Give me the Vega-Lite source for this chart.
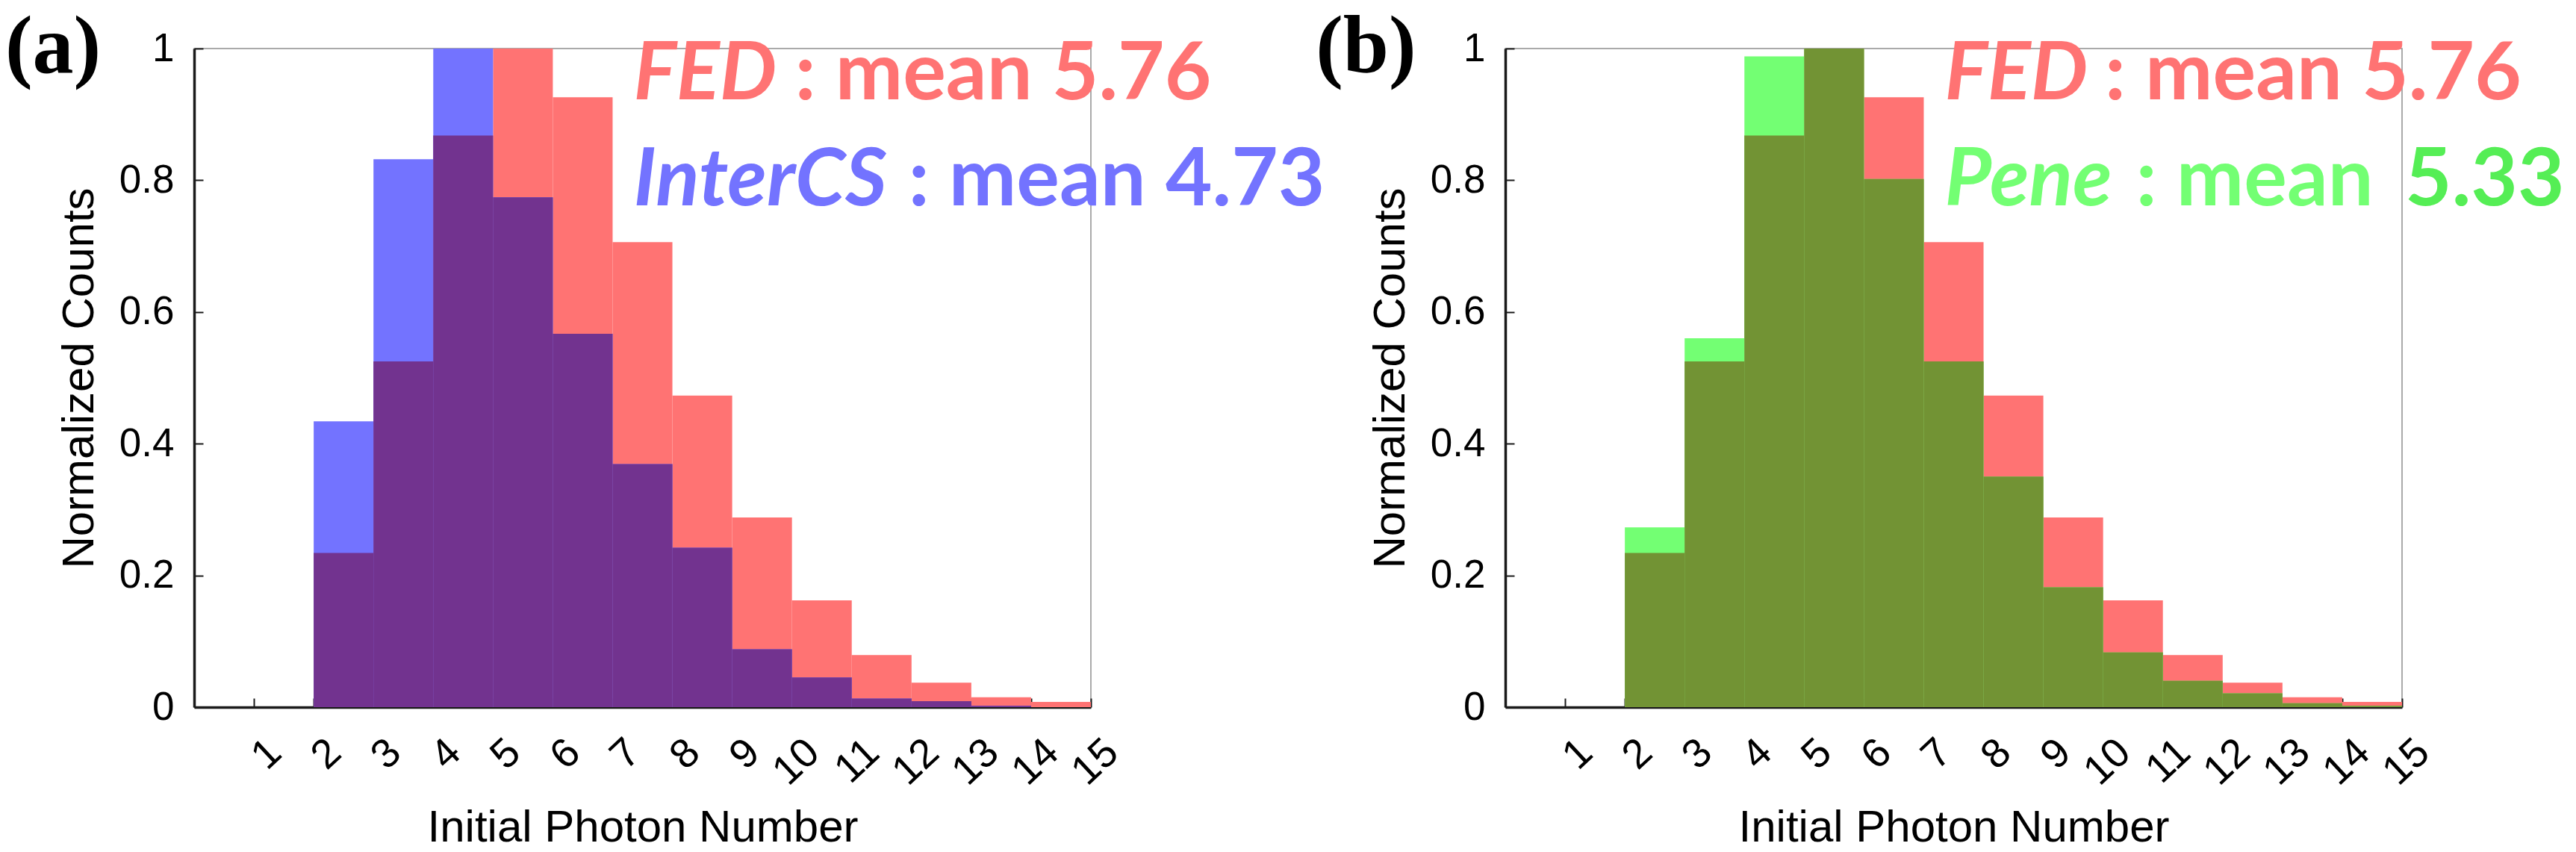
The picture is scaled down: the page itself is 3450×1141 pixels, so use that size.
{
  "$schema": "https://vega.github.io/schema/vega-lite/v6.json",
  "padding": {"left": 6, "top": 8, "right": 0, "bottom": 0},
  "background": "white",
  "bounds": "flush",
  "spacing": 555,
  "datasets": {
    "panelA": [
      {"start": 2, "end": 3, "series": "FED", "value": 0.234},
      {"start": 3, "end": 4, "series": "FED", "value": 0.525},
      {"start": 4, "end": 5, "series": "FED", "value": 0.868},
      {"start": 5, "end": 6, "series": "FED", "value": 1.0},
      {"start": 6, "end": 7, "series": "FED", "value": 0.926},
      {"start": 7, "end": 8, "series": "FED", "value": 0.706},
      {"start": 8, "end": 9, "series": "FED", "value": 0.473},
      {"start": 9, "end": 10, "series": "FED", "value": 0.288},
      {"start": 10, "end": 11, "series": "FED", "value": 0.162},
      {"start": 11, "end": 12, "series": "FED", "value": 0.079},
      {"start": 12, "end": 13, "series": "FED", "value": 0.037},
      {"start": 13, "end": 14, "series": "FED", "value": 0.015},
      {"start": 14, "end": 15, "series": "FED", "value": 0.008},
      {"start": 2, "end": 3, "series": "InterCS", "value": 0.434},
      {"start": 3, "end": 4, "series": "InterCS", "value": 0.832},
      {"start": 4, "end": 5, "series": "InterCS", "value": 1.0},
      {"start": 5, "end": 6, "series": "InterCS", "value": 0.774},
      {"start": 6, "end": 7, "series": "InterCS", "value": 0.567},
      {"start": 7, "end": 8, "series": "InterCS", "value": 0.369},
      {"start": 8, "end": 9, "series": "InterCS", "value": 0.242},
      {"start": 9, "end": 10, "series": "InterCS", "value": 0.088},
      {"start": 10, "end": 11, "series": "InterCS", "value": 0.045},
      {"start": 11, "end": 12, "series": "InterCS", "value": 0.013},
      {"start": 12, "end": 13, "series": "InterCS", "value": 0.009},
      {"start": 13, "end": 14, "series": "InterCS", "value": 0.002},
      {"start": 2, "end": 3, "series": "FED∩InterCS", "value": 0.234},
      {"start": 3, "end": 4, "series": "FED∩InterCS", "value": 0.525},
      {"start": 4, "end": 5, "series": "FED∩InterCS", "value": 0.868},
      {"start": 5, "end": 6, "series": "FED∩InterCS", "value": 0.774},
      {"start": 6, "end": 7, "series": "FED∩InterCS", "value": 0.567},
      {"start": 7, "end": 8, "series": "FED∩InterCS", "value": 0.369},
      {"start": 8, "end": 9, "series": "FED∩InterCS", "value": 0.242},
      {"start": 9, "end": 10, "series": "FED∩InterCS", "value": 0.088},
      {"start": 10, "end": 11, "series": "FED∩InterCS", "value": 0.045},
      {"start": 11, "end": 12, "series": "FED∩InterCS", "value": 0.013},
      {"start": 12, "end": 13, "series": "FED∩InterCS", "value": 0.009},
      {"start": 13, "end": 14, "series": "FED∩InterCS", "value": 0.002}
    ],
    "panelB": [
      {"start": 2, "end": 3, "series": "FED", "value": 0.234},
      {"start": 3, "end": 4, "series": "FED", "value": 0.525},
      {"start": 4, "end": 5, "series": "FED", "value": 0.868},
      {"start": 5, "end": 6, "series": "FED", "value": 1.0},
      {"start": 6, "end": 7, "series": "FED", "value": 0.926},
      {"start": 7, "end": 8, "series": "FED", "value": 0.706},
      {"start": 8, "end": 9, "series": "FED", "value": 0.473},
      {"start": 9, "end": 10, "series": "FED", "value": 0.288},
      {"start": 10, "end": 11, "series": "FED", "value": 0.162},
      {"start": 11, "end": 12, "series": "FED", "value": 0.079},
      {"start": 12, "end": 13, "series": "FED", "value": 0.037},
      {"start": 13, "end": 14, "series": "FED", "value": 0.015},
      {"start": 14, "end": 15, "series": "FED", "value": 0.008},
      {"start": 2, "end": 3, "series": "Pene", "value": 0.273},
      {"start": 3, "end": 4, "series": "Pene", "value": 0.560},
      {"start": 4, "end": 5, "series": "Pene", "value": 0.988},
      {"start": 5, "end": 6, "series": "Pene", "value": 1.0},
      {"start": 6, "end": 7, "series": "Pene", "value": 0.802},
      {"start": 7, "end": 8, "series": "Pene", "value": 0.525},
      {"start": 8, "end": 9, "series": "Pene", "value": 0.350},
      {"start": 9, "end": 10, "series": "Pene", "value": 0.182},
      {"start": 10, "end": 11, "series": "Pene", "value": 0.083},
      {"start": 11, "end": 12, "series": "Pene", "value": 0.040},
      {"start": 12, "end": 13, "series": "Pene", "value": 0.021},
      {"start": 13, "end": 14, "series": "Pene", "value": 0.006},
      {"start": 14, "end": 15, "series": "Pene", "value": 0.002},
      {"start": 2, "end": 3, "series": "FED∩Pene", "value": 0.234},
      {"start": 3, "end": 4, "series": "FED∩Pene", "value": 0.525},
      {"start": 4, "end": 5, "series": "FED∩Pene", "value": 0.868},
      {"start": 5, "end": 6, "series": "FED∩Pene", "value": 1.0},
      {"start": 6, "end": 7, "series": "FED∩Pene", "value": 0.802},
      {"start": 7, "end": 8, "series": "FED∩Pene", "value": 0.525},
      {"start": 8, "end": 9, "series": "FED∩Pene", "value": 0.350},
      {"start": 9, "end": 10, "series": "FED∩Pene", "value": 0.182},
      {"start": 10, "end": 11, "series": "FED∩Pene", "value": 0.083},
      {"start": 11, "end": 12, "series": "FED∩Pene", "value": 0.040},
      {"start": 12, "end": 13, "series": "FED∩Pene", "value": 0.021},
      {"start": 13, "end": 14, "series": "FED∩Pene", "value": 0.006},
      {"start": 14, "end": 15, "series": "FED∩Pene", "value": 0.002}
    ]
  },
  "config": {
    "font": "Liberation Sans",
    "view": {"stroke": "#8f8f8f", "strokeWidth": 1.5},
    "axis": {
      "domainColor": "#1a1a1a", "domainWidth": 3.5,
      "tickColor": "#1a1a1a", "tickWidth": 2, "tickSize": -12,
      "labelFont": "Liberation Sans", "labelColor": "black",
      "titleFont": "Liberation Sans", "titleColor": "black", "titleFontWeight": "normal",
      "grid": false, "zindex": 1, "labelOverlap": false, "labelFlush": false
    }
  },
  "hconcat": [
    {
      "width": 1201, "height": 882,
      "layer": [
        {
          "data": {"name": "panelA"},
          "mark": {"type": "bar", "strokeWidth": 0},
          "encoding": {
            "x": {"field": "start", "type": "quantitative",
                  "scale": {"domain": [0, 15], "nice": false, "zero": false},
                  "axis": {"values": [1,2,3,4,5,6,7,8,9,10,11,12,13,14,15], "format": "d",
                           "labelFontSize": 55, "labelAngle": -43, "labelAlign": "right", "labelBaseline": "top",
                           "labelOffset": 10, "labelPadding": 45,
                           "title": "Initial Photon Number", "titleFontSize": 60, "titlePadding": 18}},
            "x2": {"field": "end"},
            "y": {"field": "value", "type": "quantitative", "stack": null,
                  "scale": {"domain": [0, 1], "nice": false},
                  "axis": {"values": [0, 0.2, 0.4, 0.6, 0.8, 1], "format": "~g",
                           "labelFontSize": 53, "labelPadding": 39,
                           "title": "Normalized Counts", "titleFontSize": 60, "titlePadding": 22}},
            "y2": {"datum": 0},
            "color": {"field": "series", "type": "nominal",
                      "scale": {"domain": ["FED", "InterCS", "Pene", "FED∩InterCS", "FED∩Pene"],
                                "range": ["#FF7373", "#7373FF", "#73FF73", "#72338F", "#729334"]},
                      "legend": null}
          }
        },
        {
          "data": {"values": [{}]},
          "mark": {"type": "text", "font": "Liberation Serif", "fontWeight": "bold", "fontSize": 110, "align": "left", "baseline": "alphabetic", "color": "black"},
          "encoding": {"x": {"datum": -3.16, "type": "quantitative"}, "y": {"datum": 0.964, "type": "quantitative"}, "text": {"value": "(a)"}}
        },
        {
          "data": {"values": [{}]},
          "mark": {"type": "text", "font": "Lato", "fontWeight": "bold", "fontStyle": "italic", "fontSize": 108, "align": "left", "baseline": "alphabetic", "color": "#FF7373"},
          "encoding": {"x": {"datum": 7.35, "type": "quantitative"}, "y": {"datum": 0.923, "type": "quantitative"}, "text": {"value": "FED"}}
        },
        {
          "data": {"values": [{}]},
          "mark": {"type": "text", "font": "Lato", "fontWeight": "bold", "fontSize": 108, "align": "left", "baseline": "alphabetic", "color": "#FF7373"},
          "encoding": {"x": {"datum": 10.05, "type": "quantitative"}, "y": {"datum": 0.923, "type": "quantitative"}, "text": {"value": ": mean 5.76"}}
        },
        {
          "data": {"values": [{}]},
          "mark": {"type": "text", "font": "Lato", "fontWeight": "bold", "fontStyle": "italic", "fontSize": 108, "align": "left", "baseline": "alphabetic", "color": "#7373FF"},
          "encoding": {"x": {"datum": 7.35, "type": "quantitative"}, "y": {"datum": 0.762, "type": "quantitative"}, "text": {"value": "InterCS"}}
        },
        {
          "data": {"values": [{}]},
          "mark": {"type": "text", "font": "Lato", "fontWeight": "bold", "fontSize": 108, "align": "left", "baseline": "alphabetic", "color": "#7373FF"},
          "encoding": {"x": {"datum": 11.95, "type": "quantitative"}, "y": {"datum": 0.762, "type": "quantitative"}, "text": {"value": ": mean 4.73"}}
        }
      ]
    },
    {
      "width": 1201, "height": 882,
      "layer": [
        {
          "data": {"name": "panelB"},
          "mark": {"type": "bar", "strokeWidth": 0},
          "encoding": {
            "x": {"field": "start", "type": "quantitative",
                  "scale": {"domain": [0, 15], "nice": false, "zero": false},
                  "axis": {"values": [1,2,3,4,5,6,7,8,9,10,11,12,13,14,15], "format": "d",
                           "labelFontSize": 55, "labelAngle": -43, "labelAlign": "right", "labelBaseline": "top",
                           "labelOffset": 10, "labelPadding": 45,
                           "title": "Initial Photon Number", "titleFontSize": 60, "titlePadding": 18}},
            "x2": {"field": "end"},
            "y": {"field": "value", "type": "quantitative", "stack": null,
                  "scale": {"domain": [0, 1], "nice": false},
                  "axis": {"values": [0, 0.2, 0.4, 0.6, 0.8, 1], "format": "~g",
                           "labelFontSize": 53, "labelPadding": 39,
                           "title": "Normalized Counts", "titleFontSize": 60, "titlePadding": 22}},
            "y2": {"datum": 0},
            "color": {"field": "series", "type": "nominal",
                      "scale": {"domain": ["FED", "InterCS", "Pene", "FED∩InterCS", "FED∩Pene"],
                                "range": ["#FF7373", "#7373FF", "#73FF73", "#72338F", "#729334"]},
                      "legend": null}
          }
        },
        {
          "data": {"values": [{}]},
          "mark": {"type": "text", "font": "Liberation Serif", "fontWeight": "bold", "fontSize": 110, "align": "left", "baseline": "alphabetic", "color": "black"},
          "encoding": {"x": {"datum": -3.17, "type": "quantitative"}, "y": {"datum": 0.964, "type": "quantitative"}, "text": {"value": "(b)"}}
        },
        {
          "data": {"values": [{}]},
          "mark": {"type": "text", "font": "Lato", "fontWeight": "bold", "fontStyle": "italic", "fontSize": 108, "align": "left", "baseline": "alphabetic", "color": "#FF7373"},
          "encoding": {"x": {"datum": 7.35, "type": "quantitative"}, "y": {"datum": 0.923, "type": "quantitative"}, "text": {"value": "FED"}}
        },
        {
          "data": {"values": [{}]},
          "mark": {"type": "text", "font": "Lato", "fontWeight": "bold", "fontSize": 108, "align": "left", "baseline": "alphabetic", "color": "#FF7373"},
          "encoding": {"x": {"datum": 10.03, "type": "quantitative"}, "y": {"datum": 0.923, "type": "quantitative"}, "text": {"value": ": mean 5.76"}}
        },
        {
          "data": {"values": [{}]},
          "mark": {"type": "text", "font": "Lato", "fontWeight": "bold", "fontStyle": "italic", "fontSize": 108, "align": "left", "baseline": "alphabetic", "color": "#73FF73"},
          "encoding": {"x": {"datum": 7.35, "type": "quantitative"}, "y": {"datum": 0.762, "type": "quantitative"}, "text": {"value": "Pene"}}
        },
        {
          "data": {"values": [{}]},
          "mark": {"type": "text", "font": "Lato", "fontWeight": "bold", "fontSize": 108, "align": "left", "baseline": "alphabetic", "color": "#73FF73"},
          "encoding": {"x": {"datum": 10.55, "type": "quantitative"}, "y": {"datum": 0.762, "type": "quantitative"}, "text": {"value": ": mean"}}
        },
        {
          "data": {"values": [{}]},
          "mark": {"type": "text", "font": "Lato", "fontWeight": "bold", "fontSize": 108, "align": "left", "baseline": "alphabetic", "color": "#55EE55"},
          "encoding": {"x": {"datum": 15.05, "type": "quantitative"}, "y": {"datum": 0.762, "type": "quantitative"}, "text": {"value": "5.33"}}
        }
      ]
    }
  ]
}
